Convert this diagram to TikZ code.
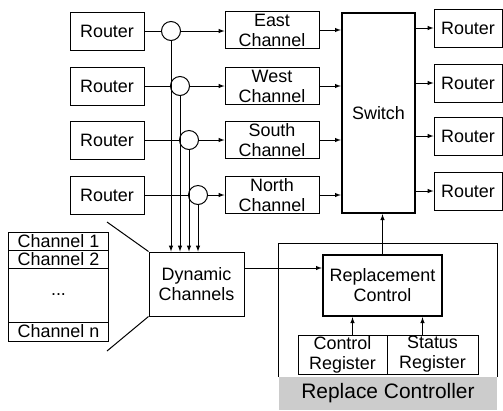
\documentclass[tikz,border=0pt]{standalone}
\usepackage{fontspec}
\setmainfont{Liberation Sans}

\begin{document}
\begin{tikzpicture}[-latex, x=1bp, y=-1bp, line width=1bp,
        font=\fontsize{18}{20}\selectfont,
        box/.style ={draw, rectangle, inner sep=0pt, align=center},
        router/.style ={box, minimum width=74bp, minimum height=38bp},
        outrouter/.style ={box, minimum width=68bp, minimum height=38bp},
        chan/.style ={box, minimum width=94bp, minimum height=37bp},
        junction/.style ={draw, circle, minimum size=19bp, inner sep=0pt},
        thickbox/.style ={box, line width=2.4bp},
        cell/.style ={box, minimum width=99bp}]

        \useasboundingbox (0,0) rectangle (503,410);

        %routers in
        \node[router] (r1) at (107, 31) {Router};
        \node[router] (r2) at (107, 86) {Router};
        \node[router] (r3) at (107, 140) {Router};
        \node[router] (r4) at (107, 195) {Router};

        %cruces
        \node[junction] (c1) at (171, 31) {};
        \node[junction] (c2) at (180, 86) {};
        \node[junction] (c3) at (189, 140) {};
        \node[junction] (c4) at (198, 195) {};

        %canales
        \node[chan] (ch1) at (272, 30) {East\\Channel};
        \node[chan] (ch2) at (272, 86) {West\\Channel};
        \node[chan] (ch3) at (272, 140) {South\\Channel};
        \node[chan] (ch4) at (272, 195) {North\\Channel};

        \node[thickbox, minimum width=73bp, minimum height=200bp] (sw) at (378.5, 113) {Switch};

        %routers out
        \node[outrouter] (o1) at (468, 28) {Router};
        \node[outrouter] (o2) at (468, 83) {Router};
        \node[outrouter] (o3) at (468, 136) {Router};
        \node[outrouter] (o4) at (468, 191) {Router};

        \node[box, minimum width=95bp, minimum height=64bp] (dyn) at (196.5, 284) {Dynamic\\Channels};

        %lista de canales
        \node[cell, minimum height=18bp] (l1) at (58.5, 241) {Channel 1};
        \node[cell, minimum height=18bp] (l2) at (58.5, 259) {Channel 2};
        \node[cell, minimum height=54bp] (l3) at (58.5, 295) {...};
        \node[cell, minimum height=19bp] (l4) at (58.5, 331.5) {Channel n};
        \coordinate (zt) at (107, 222);
        \coordinate (zb) at (107, 351);

        %controlador
        \node[box, draw=none, fill=gray!40, minimum width=218bp, minimum height=33bp,
            font=\fontsize{21}{24}\selectfont] (band) at (388, 393.5) {Replace Controller};
        \draw[-] (band.north west) -- ++(0, -133) -| (band.north east);
        \node[thickbox, minimum width=119bp, minimum height=61bp] (rc) at (382.5, 285.5) {Replacement\\Control};
        \node[box, minimum width=89bp, minimum height=39bp] (creg) at (342.5, 354.5) {Control\\Register};
        \node[box, minimum width=91bp, minimum height=39bp] (sreg) at (432.5, 354.5) {Status\\Register};

        \path (r1) edge[-] (c1);
        \path (r2) edge[-] (c2);
        \path (r3) edge[-] (c3);
        \path (r4) edge[-] (c4);

        \path (c1) edge (c1 -| ch1.west);
        \path (c2) edge (c2 -| ch2.west);
        \path (c3) edge (c3 -| ch3.west);
        \path (c4) edge (c4 -| ch4.west);

        \path (c1) edge (c1 |- dyn.north);
        \path (c2) edge (c2 |- dyn.north);
        \path (c3) edge (c3 |- dyn.north);
        \path (c4) edge (c4 |- dyn.north);

        \path (ch1) edge (ch1 -| sw.west);
        \path (ch2) edge (ch2 -| sw.west);
        \path (ch3) edge (ch3 -| sw.west);
        \path (ch4) edge (ch4 -| sw.west);

        \path (sw.east |- o1) edge (o1);
        \path (sw.east |- o2) edge (o2);
        \path (sw.east |- o3) edge (o3);
        \path (sw.east |- o4) edge (o4);

        \path (zt) edge[-] (dyn.north west);
        \path (zb) edge[-] (dyn.south west);

        \path ([yshift=16bp]dyn.east) edge ([yshift=16bp]dyn.east -| rc.west);
        \path (rc) edge (rc.north |- sw.south);
        \path ([xshift=10bp]creg.north) edge ([xshift=10bp]creg.north |- rc.south);
        \path ([xshift=-10bp]sreg.north) edge ([xshift=-10bp]sreg.north |- rc.south);
    \end{tikzpicture}
\end{document}
